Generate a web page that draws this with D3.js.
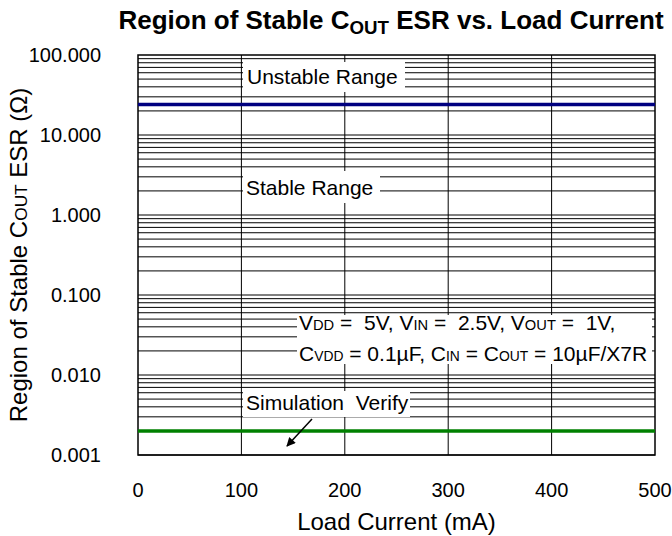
<!DOCTYPE html>
<html>
<head>
<meta charset="utf-8">
<script src="https://cdn.jsdelivr.net/npm/d3@7"></script>
<style>
  body { margin: 0; background: #fff; }
  text { font-family: Arial, 'Liberation Sans', sans-serif; fill: #000; }
</style>
</head>
<body>
<div id="chart"></div>
<script>
// load current, mA
let loadCurrent = [0, 500]
// boundary lines, ohm
let unstableEsr = [24, 24]
let simVerifyEsr = [0.002, 0.002]
let xTicks = [0, 100, 200, 300, 400, 500]
let yTicks = [0.001, 0.01, 0.1, 1, 10, 100]

let w = 672,
  h = 536
let plot = { left: 138, right: 655, top: 55, bottom: 455 }

let svg = d3.select('#chart').append('svg')
  .attr('width', w)
  .attr('height', h)

let x = d3.scaleLinear().domain([0, 500]).range([plot.left, plot.right])
let y = d3.scaleLog().domain([0.001, 100]).range([plot.bottom, plot.top])

// minor + major horizontal grid (1..9 each decade)
let hGrid = []
for (let d = -3; d < 2; d++) {
  for (let k = 1; k < 10; k++) hGrid.push(k * Math.pow(10, d))
}
let grid = svg.append('g').attr('stroke', '#000').attr('stroke-width', 1)
grid.selectAll('.hg').data(hGrid).enter().append('line')
  .attr('x1', plot.left).attr('x2', plot.right)
  .attr('y1', d => y(d)).attr('y2', d => y(d))
grid.selectAll('.vg').data(xTicks.slice(1, -1)).enter().append('line')
  .attr('x1', d => x(d)).attr('x2', d => x(d))
  .attr('y1', plot.top).attr('y2', plot.bottom)

// border
svg.append('rect')
  .attr('x', plot.left).attr('y', plot.top)
  .attr('width', plot.right - plot.left).attr('height', plot.bottom - plot.top)
  .attr('fill', 'none').attr('stroke', '#000').attr('stroke-width', 1.5)

let line = d3.line().x(d => x(d[0])).y(d => y(d[1]))
svg.append('path').datum(d3.zip(loadCurrent, unstableEsr))
  .attr('d', line).attr('stroke', '#000080').attr('stroke-width', 3.5).attr('fill', 'none')
svg.append('path').datum(d3.zip(loadCurrent, simVerifyEsr))
  .attr('d', line).attr('stroke', '#008000').attr('stroke-width', 3.5).attr('fill', 'none')

// labels with white boxes
let boxes = [
  { x: 243, y: 62, w: 162, h: 30 },
  { x: 243, y: 171, w: 137, h: 32 },
  { x: 297, y: 315, w: 355, h: 49 },
  { x: 243, y: 391, w: 167, h: 26 }
]
svg.append('g').selectAll('rect').data(boxes).enter().append('rect')
  .attr('x', d => d.x).attr('y', d => d.y)
  .attr('width', d => d.w).attr('height', d => d.h)
  .attr('fill', '#fff')

let fs = 21
svg.append('text').text('Unstable Range').attr('x', 247).attr('y', 84).attr('font-size', fs)
svg.append('text').text('Stable Range').attr('x', 246).attr('y', 195).attr('font-size', fs)
svg.append('text').text('Simulation  Verify').attr('xml:space', 'preserve')
  .attr('x', 246).attr('y', 410).attr('font-size', fs)

// condition text, small same-baseline subscripts
function richText (sel, parts, sub) {
  parts.forEach(p => {
    sel.append('tspan').text(p[0]).attr('font-size', p[1] ? (sub || '72%') : null)
  })
}
let cond1 = svg.append('text').attr('x', 299).attr('y', 330).attr('font-size', fs).attr('xml:space', 'preserve')
richText(cond1, [['V'], ['DD', 1], [' =  5V, V'], ['IN', 1], [' =  2.5V, V'], ['OUT', 1], [' =  1V,']], '70%')
let cond2 = svg.append('text').attr('x', 299).attr('y', 361).attr('font-size', fs).attr('xml:space', 'preserve')
richText(cond2, [['C'], ['VDD', 1], [' = 0.1\u00b5F, C'], ['IN', 1], [' = C'], ['OUT', 1], [' = 10\u00b5F/X7R']], '66%')

// arrow
svg.append('defs').append('marker')
  .attr('id', 'ah').attr('viewBox', '0 0 10 10').attr('refX', 9).attr('refY', 5)
  .attr('markerWidth', 11).attr('markerHeight', 9).attr('orient', 'auto')
  .attr('markerUnits', 'userSpaceOnUse')
  .append('path').attr('d', 'M0,0L10,5L0,10z').attr('fill', '#000')
svg.append('line')
  .attr('x1', 312).attr('y1', 419).attr('x2', 287).attr('y2', 446)
  .attr('stroke', '#000').attr('stroke-width', 1.5).attr('marker-end', 'url(#ah)')

// tick labels
svg.append('g').selectAll('text').data(yTicks).enter().append('text')
  .text(d => d3.format('.3f')(d))
  .attr('x', 101).attr('y', d => y(d) + 7)
  .attr('text-anchor', 'end').attr('font-size', 20)
svg.append('g').selectAll('text').data(xTicks).enter().append('text')
  .text(d => d)
  .attr('x', d => x(d)).attr('y', 497)
  .attr('text-anchor', 'middle').attr('font-size', 20)

// axis titles
svg.append('text').text('Load Current (mA)')
  .attr('x', (plot.left + plot.right) / 2).attr('y', 530)
  .attr('text-anchor', 'middle').attr('font-size', 24)

let yt = svg.append('text')
  .attr('transform', `translate(27, ${(plot.top + plot.bottom) / 2}) rotate(-90)`)
  .attr('text-anchor', 'middle').attr('font-size', 24)
richText(yt, [['Region of Stable C'], ['OUT', 1], [' ESR (\u03a9)']])

// title
let title = svg.append('text')
  .attr('x', 391).attr('y', 29)
  .attr('text-anchor', 'middle').attr('font-size', 26).attr('font-weight', 'bold')
title.append('tspan').text('Region of Stable C')
title.append('tspan').text('OUT').attr('font-size', '72%').attr('dy', 5)
title.append('tspan').text(' ESR vs. Load Current').attr('dy', -5)
</script>
</body>
</html>
